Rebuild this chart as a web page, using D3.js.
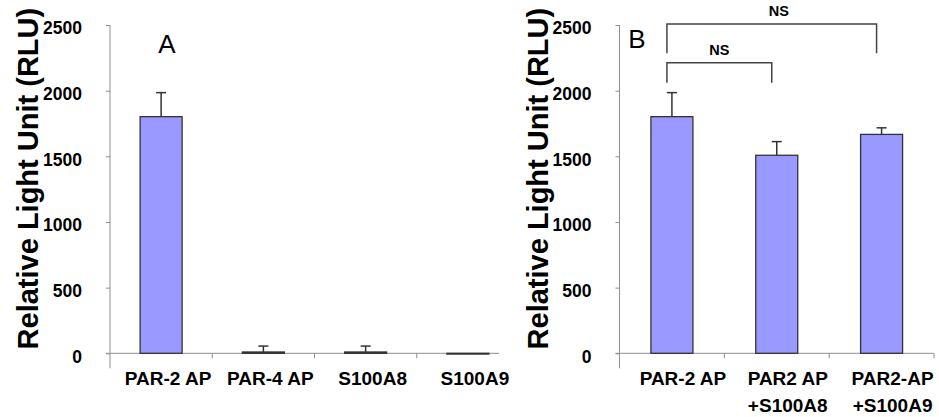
<!DOCTYPE html>
<html>
<head>
<meta charset="utf-8">
<script src="https://cdn.jsdelivr.net/npm/d3@7"></script>
<style>
  body { margin: 0; background: #fff; }
  text { font-family: Arial, "Liberation Sans", sans-serif; }
</style>
</head>
<body>
<div id="chart"></div>
<script>
// Data
var yTicks = [0, 500, 1000, 1500, 2000, 2500];

var catsA = [["PAR-2 AP"], ["PAR-4 AP"], ["S100A8"], ["S100A9"]];
var valsA = [1802, 10, 10, -6];
var errsA = [183, 45, 45, 0];

var catsB = [["PAR-2 AP"], ["PAR2 AP", "+S100A8"], ["PAR2-AP", "+S100A9"]];
var valsB = [1802, 1508, 1667];
var errsB = [183, 104, 50];

// significance brackets in panel B (category index, RLU levels)
var bracketFrom = [0, 0];
var bracketTo = [2, 1];
var bracketTop = [2508, 2213];
var bracketBottom = [2285, 2061];
var bracketText = ["NS", "NS"];

var svgWidth = 939;
var svgHeight = 417;

var svg = d3.select("#chart")
  .append("svg")
  .attr("width", svgWidth)
  .attr("height", svgHeight);

svg.append("rect")
  .attr("width", svgWidth)
  .attr("height", svgHeight)
  .attr("fill", "#fff");

var yScale = d3.scaleLinear()
  .domain([0, 2500])
  .range([353.3, 25]);

var axisColor = "#8f8f8f";

function drawPanel(opts) {
  var g = svg.append("g");

  var xScale = d3.scaleBand()
    .domain(d3.range(opts.cats.length))
    .range([opts.x0, opts.x1])
    .padding(0);

  var barW = 42;
  var y0 = yScale(0);

  // y axis
  var leftAxis = d3.axisLeft(yScale)
    .tickValues(yTicks)
    .tickFormat(d3.format("d"))
    .tickSize(4)
    .tickPadding(24);

  var yAxisG = g.append("g")
    .attr("transform", `translate(${opts.x0}, 0)`)
    .call(leftAxis);
  yAxisG.select(".domain").remove();
  yAxisG.selectAll(".tick line").attr("stroke", axisColor);
  yAxisG.selectAll(".tick text")
    .attr("dy", "0.5em")
    .style("font-family", "Arial, 'Liberation Sans', sans-serif")
    .style("font-size", "17.5px")
    .style("font-weight", "bold")
    .attr("fill", "#000");

  g.append("line")
    .attr("x1", opts.x0).attr("x2", opts.x0)
    .attr("y1", yScale(2500)).attr("y2", y0 + 15)
    .attr("stroke", axisColor);

  // x axis
  g.append("line")
    .attr("x1", opts.x0 - 4).attr("x2", opts.axisEnd)
    .attr("y1", y0).attr("y2", y0)
    .attr("stroke", axisColor);

  g.selectAll(".cattick")
    .data(d3.range(1, opts.cats.length + 1).filter(i => opts.x0 + i * xScale.step() <= opts.axisEnd + 1))
    .enter()
    .append("line")
    .attr("x1", i => opts.x0 + i * xScale.step())
    .attr("x2", i => opts.x0 + i * xScale.step())
    .attr("y1", y0).attr("y2", y0 + 5)
    .attr("stroke", axisColor);

  // bars
  g.selectAll(".bar")
    .data(opts.vals)
    .enter()
    .append("rect")
    .attr("x", (d, i) => xScale(i) + xScale.bandwidth() / 2 - barW / 2)
    .attr("y", d => Math.min(yScale(d), y0))
    .attr("width", barW)
    .attr("height", d => Math.abs(yScale(d) - y0))
    .attr("fill", "#9999ff")
    .attr("stroke", "#333")
    .attr("stroke-width", 1.3);

  // error bars
  opts.vals.forEach(function (v, i) {
    if (!opts.errs[i]) return;
    var cx = xScale(i) + xScale.bandwidth() / 2;
    g.append("line")
      .attr("x1", cx).attr("x2", cx)
      .attr("y1", yScale(v)).attr("y2", yScale(v + opts.errs[i]))
      .attr("stroke", "#333").attr("stroke-width", 1.5);
    g.append("line")
      .attr("x1", cx - 5).attr("x2", cx + 5)
      .attr("y1", yScale(v + opts.errs[i])).attr("y2", yScale(v + opts.errs[i]))
      .attr("stroke", "#333").attr("stroke-width", 1.5);
  });

  // category labels
  opts.cats.forEach(function (lines, i) {
    var t = g.append("text")
      .attr("x", xScale(i) + xScale.bandwidth() / 2 + opts.labelDx)
      .attr("y", 385)
      .style("text-anchor", "middle")
      .style("font-size", "19px")
      .style("font-weight", "bold");
    lines.forEach(function (s, k) {
      t.append("tspan")
        .attr("x", xScale(i) + xScale.bandwidth() / 2 + opts.labelDx)
        .attr("dy", k === 0 ? 0 : 26.7)
        .text(s);
    });
  });

  // y title
  g.append("text")
    .attr("transform", `translate(${opts.x0 - 72}, ${yScale(1330)}) rotate(-90)`)
    .style("text-anchor", "middle")
    .style("font-size", "29px")
    .style("font-weight", "bold")
    .text("Relative Light Unit (RLU)");

  // panel letter
  g.append("text")
    .attr("x", opts.letterX)
    .attr("y", opts.letterY)
    .style("text-anchor", "middle")
    .style("font-size", "26px")
    .text(opts.letter);

  return xScale;
}

drawPanel({
  cats: catsA, vals: valsA, errs: errsA,
  x0: 110, x1: 519, axisEnd: 499,
  labelDx: 7, letter: "A", letterX: 167, letterY: 53
});

var xB = drawPanel({
  cats: catsB, vals: valsB, errs: errsB,
  x0: 619.5, x1: 934, axisEnd: 934,
  labelDx: 11, letter: "B", letterX: 637, letterY: 48
});

// brackets
bracketFrom.forEach(function (f, k) {
  var xl = xB(f) + xB.bandwidth() / 2 - 5;
  var xr = xB(bracketTo[k]) + xB.bandwidth() / 2 - 5;
  var yt = yScale(bracketTop[k]);
  var yb = yScale(bracketBottom[k]);
  svg.append("path")
    .attr("d", `M${xl},${yb}V${yt}H${xr}V${yb}`)
    .attr("fill", "none")
    .attr("stroke", "#444")
    .attr("stroke-width", 1.5);
  svg.append("text")
    .attr("x", (xl + xr) / 2 + (k === 0 ? 7 : 0))
    .attr("y", yt - 7.5)
    .style("text-anchor", "middle")
    .style("font-size", "14.5px")
    .style("font-weight", "bold")
    .text(bracketText[k]);
});
</script>
</body>
</html>
